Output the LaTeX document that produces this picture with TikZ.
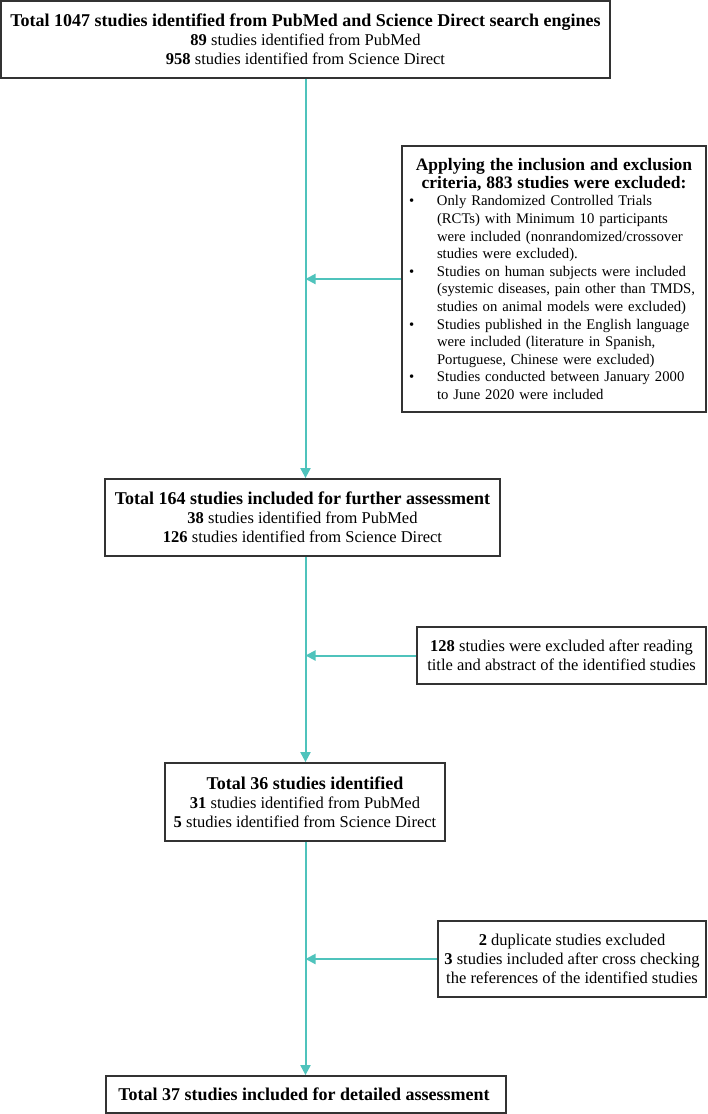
\documentclass[tikz,border=0pt]{standalone}
\usepackage{fontspec}
\setmainfont{Liberation Serif}
\usetikzlibrary{arrows.meta, positioning}

\definecolor{flowteal}{HTML}{4FC3BC}
\definecolor{boxline}{HTML}{333333}

\newcommand{\hd}[1]{{\fontsize{18}{19}\selectfont\bfseries #1}}
\newcommand{\critem}[1]{\par\noindent\hangindent=28pt\hangafter=1\makebox[28pt][l]{\textbullet}#1\par}

\begin{document}
\begin{tikzpicture}[
    x=1pt, y=1pt,
    every node/.style={font=\fontsize{16.5}{19}\selectfont},
    stage/.style={
        rectangle,
        draw=boxline,
        line width=1.8pt,
        fill=white,
        align=center,
        inner sep=0pt
    },
    excl/.style={
        stage,
        font=\fontsize{14.7}{17.6}\selectfont
    },
    arrow/.style={
        -{Triangle[length=10pt, width=10pt]},
        draw=flowteal,
        line width=2pt
    }
]
\useasboundingbox (0,0) rectangle (707,-1114);

\node (total) [stage, minimum width=609pt, minimum height=77pt] at (305.5,-39.5) {
\hd{Total 1047 studies identified from PubMed and Science Direct search engines}\\
\textbf{89} studies identified from PubMed\\
\textbf{958} studies identified from Science Direct
};

\node (criteria) [excl, text width=290pt, inner xsep=7pt, minimum height=266pt, align=left] at (554,-279) {
{\centering\fontsize{17.5}{17.6}\selectfont\bfseries Applying the inclusion and exclusion\\
criteria, 883 studies were excluded:\par}
\critem{Only Randomized Controlled Trials\newline
(RCTs) with Minimum 10 participants\newline
were included (nonrandomized/crossover\newline
studies were excluded).}
\critem{Studies on human subjects were included\newline
(systemic diseases, pain other than TMDS,\newline
studies on animal models were excluded)}
\critem{Studies published in the English language\newline
were included (literature in Spanish,\newline
Portuguese, Chinese were excluded)}
\critem{Studies conducted between January 2000\newline
to June 2020 were included}
};

\node (further) [stage, minimum width=395pt, minimum height=77pt] at (302.5,-517.5) {
\hd{Total 164 studies included for further assessment}\\
\textbf{38} studies identified from PubMed\\
\textbf{126} studies identified from Science Direct
};

\node (screen) [stage, minimum width=289pt, minimum height=57pt] at (561.5,-655.5) {
\textbf{128} studies were excluded after reading\\
title and abstract of the identified studies
};

\node (ident) [stage, minimum width=280pt, minimum height=78pt] at (305,-802) {
\hd{Total 36 studies identified}\\
\textbf{31} studies identified from PubMed\\
\textbf{5} studies identified from Science Direct
};

\node (crosscheck) [stage, minimum width=268pt, minimum height=76pt] at (572,-959) {
\textbf{2} duplicate studies excluded\\
\textbf{3} studies included after cross checking\\
the references of the identified studies
};

\node (detailed) [stage, minimum width=400pt, minimum height=37pt] at (306,-1094.5) {
\hd{Total 37 studies included for detailed assessment}
};

\draw [arrow] (total.south) -- (total.south |- further.north);
\draw [arrow] (total.south |- further.south) -- (total.south |- ident.north);
\draw [arrow] (total.south |- ident.south) -- (total.south |- detailed.north);

\draw [arrow] (criteria.west) -- (criteria.west -| total.south);
\draw [arrow] (screen.west) -- (screen.west -| total.south);
\draw [arrow] (crosscheck.west) -- (crosscheck.west -| total.south);

\end{tikzpicture}
\end{document}
